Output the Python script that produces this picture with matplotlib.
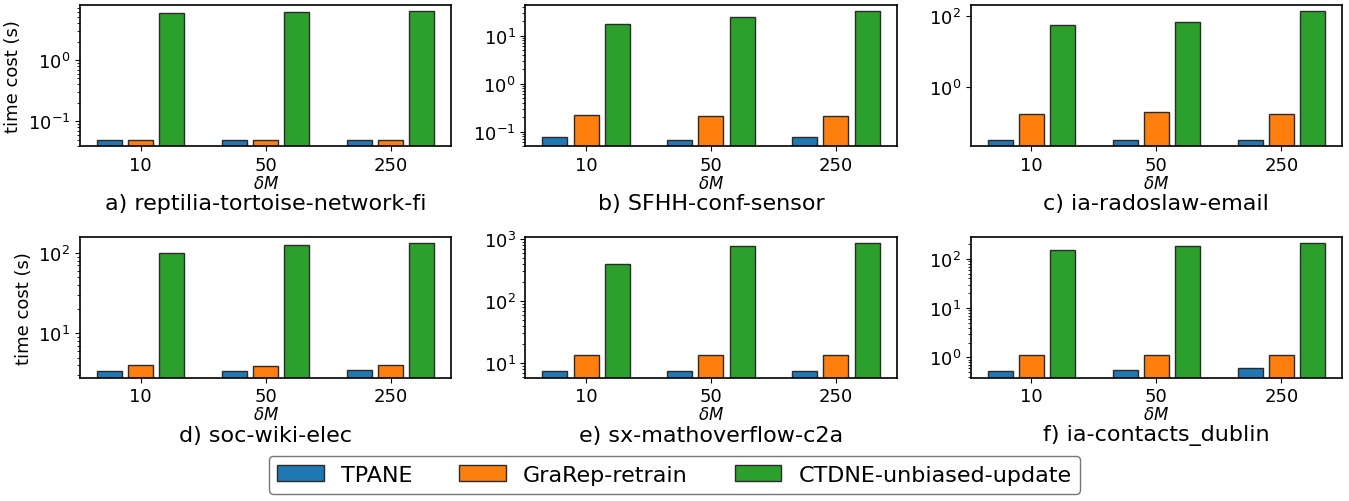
import numpy as np
import matplotlib
matplotlib.use("Agg")
import matplotlib.pyplot as plt

# data (time cost in seconds)
delta_m = ["10", "50", "250"]
methods = ["TPANE", "GraRep-retrain", "CTDNE-unbiased-update"]
colors = ["#1f77b4", "#ff7f0e", "#2ca02c"]

titles = [
    "a) reptilia-tortoise-network-fi",
    "b) SFHH-conf-sensor",
    "c) ia-radoslaw-email",
    "d) soc-wiki-elec",
    "e) sx-mathoverflow-c2a",
    "f) ia-contacts_dublin",
]

tpane = [
    [0.05, 0.05, 0.05],
    [0.078, 0.068, 0.078],
    [0.033, 0.033, 0.033],
    [3.37, 3.42, 3.52],
    [7.35, 7.5, 7.5],
    [0.52, 0.56, 0.60],
]
grarep = [
    [0.05, 0.05, 0.05],
    [0.22, 0.21, 0.21],
    [0.18, 0.205, 0.18],
    [4.0, 3.9, 4.0],
    [13.3, 13.3, 13.4],
    [1.11, 1.1, 1.1],
]
ctdne = [
    [5.85, 6.0, 6.2],
    [17.3, 24.2, 32.2],
    [54, 68, 134],
    [101, 125, 133],
    [395, 762, 861],
    [152, 186, 211],
]

fig, axes = plt.subplots(2, 3, figsize=(13.49, 5.02), dpi=100)
fig.subplots_adjust(left=0.0593, right=0.9948, top=0.988, bottom=0.2456,
                    wspace=0.2, hspace=0.64)

x = np.arange(len(delta_m))
width = 0.2
offsets = [-0.25, 0, 0.25]

for i, ax in enumerate(axes.flat):
    series = [tpane[i], grarep[i], ctdne[i]]
    for vals, off, col, name in zip(series, offsets, colors, methods):
        ax.bar(x + off, vals, width, color=col, edgecolor="#2b2b2b",
               linewidth=1, label=name)
    ax.set_yscale("log")
    ax.set_xticks(x)
    ax.set_xticklabels(delta_m)
    ax.tick_params(axis="both", labelsize=13)
    ax.set_xlabel(r"$\delta M$", fontsize=12, labelpad=0)
    # dataset name under the delta M label
    ax.text(0.5, -0.405, titles[i], transform=ax.transAxes,
            ha="center", va="center", fontsize=16)
    for s in ax.spines.values():
        s.set_linewidth(1.2)
    if i % 3 == 0:
        ax.set_ylabel("time cost (s)", fontsize=13)

handles, labels = axes.flat[0].get_legend_handles_labels()
fig.legend(handles, labels, loc="center", bbox_to_anchor=(0.5, 0.052),
           ncol=3, fontsize=16, handlelength=2.1, handletextpad=0.77,
           columnspacing=2.1, edgecolor="#555555")

fig.savefig("out.png", dpi=100)
